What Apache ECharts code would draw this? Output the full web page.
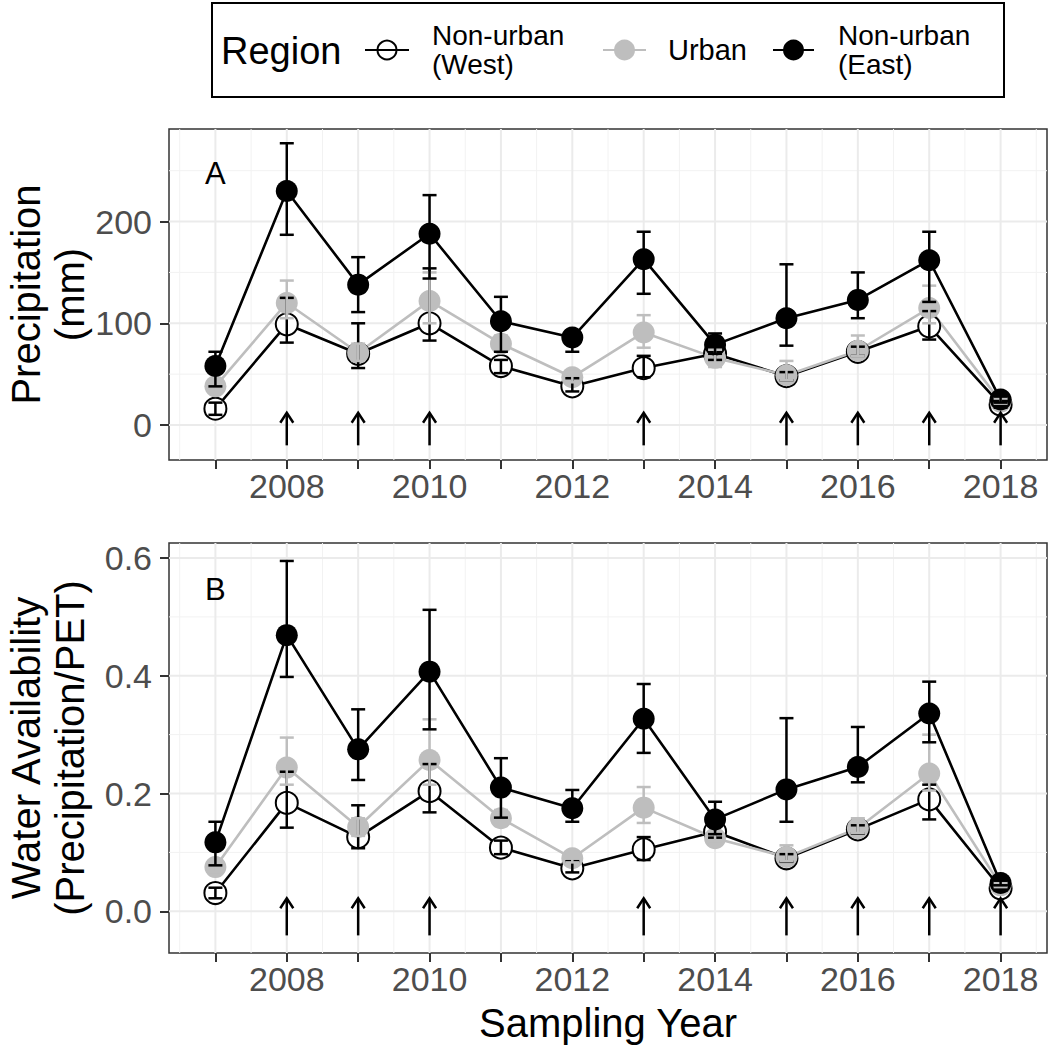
<!DOCTYPE html>
<html><head><meta charset="utf-8">
<script src="https://cdn.jsdelivr.net/npm/echarts@6/dist/echarts.min.js"></script>
<style>html,body{margin:0;padding:0;background:#fff}#c{width:1049px;height:1050px}</style>
</head><body><div id="c"></div>
<script>
// ---------- data ----------
const years = [2007, 2008, 2009, 2010, 2011, 2012, 2013, 2014, 2015, 2016, 2017, 2018];
const xTickLabels = [2008, 2010, 2012, 2014, 2016, 2018];
const arrowYears = [2008, 2009, 2010, 2013, 2015, 2016, 2017, 2018];
const precipYTicks = [0, 100, 200];
const precipYMinor = [50, 150, 250];
const waterYTicks = [0, 0.2, 0.4, 0.6];
const waterYMinor = [0.1, 0.3, 0.5];

// Panel A: Precipitation (mm)
const westPrecip    = [16, 99, 70, 100, 58, 38, 56, 70, 48, 72, 97, 20];
const westPrecipLo  = [10, 81, 56, 83, 51, 33, 47, 64, 44, 68, 84, 17];
const westPrecipHi  = [22, 125, 100, 154, 64, 46, 68, 76, 52, 77, 112, 23];
const urbanPrecip   = [38, 120, 71, 122, 80, 47, 91, 66, 49, 73, 115, 23];
const urbanPrecipLo = [32, 105, 63, 100, 72, 42, 76, 57, 44, 68, 100, 21];
const urbanPrecipHi = [44, 142, 80, 150, 88, 52, 108, 74, 63, 88, 137, 26];
const eastPrecip    = [58, 230, 138, 188, 102, 86, 163, 79, 105, 123, 162, 25];
const eastPrecipLo  = [38, 187, 111, 144, 72, 72, 129, 70, 78, 105, 121, 22];
const eastPrecipHi  = [72, 277, 165, 226, 126, 93, 190, 90, 158, 150, 190, 28];

// Panel B: Water availability (Precipitation/PET)
const westWater    = [0.031, 0.184, 0.126, 0.204, 0.108, 0.073, 0.105, 0.135, 0.090, 0.139, 0.190, 0.039];
const westWaterLo  = [0.022, 0.142, 0.107, 0.168, 0.097, 0.066, 0.087, 0.125, 0.084, 0.132, 0.156, 0.035];
const westWaterHi  = [0.040, 0.237, 0.180, 0.250, 0.120, 0.085, 0.126, 0.145, 0.097, 0.146, 0.215, 0.043];
const urbanWater   = [0.075, 0.244, 0.143, 0.257, 0.158, 0.090, 0.176, 0.124, 0.092, 0.141, 0.234, 0.044];
const urbanWaterLo = [0.066, 0.215, 0.128, 0.215, 0.145, 0.083, 0.150, 0.114, 0.085, 0.133, 0.205, 0.041];
const urbanWaterHi = [0.084, 0.295, 0.158, 0.326, 0.172, 0.098, 0.211, 0.134, 0.112, 0.158, 0.300, 0.048];
const eastWater    = [0.117, 0.469, 0.275, 0.407, 0.210, 0.175, 0.327, 0.156, 0.207, 0.245, 0.336, 0.048];
const eastWaterLo  = [0.078, 0.398, 0.223, 0.309, 0.159, 0.152, 0.269, 0.131, 0.152, 0.219, 0.287, 0.044];
const eastWaterHi  = [0.152, 0.595, 0.343, 0.512, 0.260, 0.206, 0.386, 0.186, 0.328, 0.313, 0.390, 0.052];

const arrowPrecipRange = [-20, 12];
const arrowWaterRange = [-0.041, 0.022];

// ---------- styling ----------
const FONT = "'Liberation Sans', Arial, Helvetica, sans-serif";
const GREY = '#BEBEBE';
const X_MIN = 2006.35, X_MAX = 2018.65;
const panels = [
  { grid: 0, yMin: -34.4, yMax: 291, yTicks: precipYTicks, yMinor: precipYMinor, fmt: v => String(v),
    name: 'Precipitation\n(mm)', arrows: arrowPrecipRange,
    west: [westPrecip, westPrecipLo, westPrecipHi], urban: [urbanPrecip, urbanPrecipLo, urbanPrecipHi],
    east: [eastPrecip, eastPrecipLo, eastPrecipHi] },
  { grid: 1, yMin: -0.0709, yMax: 0.6255, yTicks: waterYTicks, yMinor: waterYMinor, fmt: v => v.toFixed(1),
    name: 'Water Availability\n(Precipitation/PET)', arrows: arrowWaterRange,
    west: [westWater, westWaterLo, westWaterHi], urban: [urbanWater, urbanWaterLo, urbanWaterHi],
    east: [eastWater, eastWaterLo, eastWaterHi] }
];

const xMinor = years.map(y => y - 0.5).concat([years[years.length - 1] + 0.5]);

function gridLinesRender(p) {
  return function (params, api) {
    const ch = [];
    const major = { stroke: '#EBEBEB', lineWidth: 2 };
    const minor = { stroke: '#F2F2F2', lineWidth: 1 };
    xMinor.forEach(x => {
      if (x < X_MIN || x > X_MAX) return;
      const a = api.coord([x, p.yMin]), b = api.coord([x, p.yMax]);
      ch.push({ type: 'line', shape: { x1: a[0], y1: a[1], x2: b[0], y2: b[1] }, style: minor });
    });
    p.yMinor.forEach(y => {
      const a = api.coord([X_MIN, y]), b = api.coord([X_MAX, y]);
      ch.push({ type: 'line', shape: { x1: a[0], y1: a[1], x2: b[0], y2: b[1] }, style: minor });
    });
    years.forEach(x => {
      const a = api.coord([x, p.yMin]), b = api.coord([x, p.yMax]);
      ch.push({ type: 'line', shape: { x1: a[0], y1: a[1], x2: b[0], y2: b[1] }, style: major });
    });
    p.yTicks.forEach(y => {
      const a = api.coord([X_MIN, y]), b = api.coord([X_MAX, y]);
      ch.push({ type: 'line', shape: { x1: a[0], y1: a[1], x2: b[0], y2: b[1] }, style: major });
    });
    return { type: 'group', children: ch };
  };
}

function errRender(color) {
  return function (params, api) {
    const x = api.value(0), lo = api.value(1), hi = api.value(2);
    const a = api.coord([x, lo]), b = api.coord([x, hi]);
    const w = 7;
    const style = { stroke: color, lineWidth: 2.5, fill: null };
    return { type: 'group', children: [
      { type: 'line', shape: { x1: a[0], y1: a[1], x2: b[0], y2: b[1] }, style },
      { type: 'line', shape: { x1: a[0] - w, y1: a[1], x2: a[0] + w, y2: a[1] }, style },
      { type: 'line', shape: { x1: b[0] - w, y1: b[1], x2: b[0] + w, y2: b[1] }, style }
    ] };
  };
}

function arrowRender(params, api) {
  const x = api.value(0), lo = api.value(1), hi = api.value(2);
  const a = api.coord([x, lo]), b = api.coord([x, hi]);
  const style = { stroke: '#000', lineWidth: 2.5, fill: null };
  return { type: 'group', children: [
    { type: 'line', shape: { x1: a[0], y1: a[1], x2: b[0], y2: b[1] + 1 }, style },
    { type: 'polyline', shape: { points: [[b[0] - 6.5, b[1] + 10], [b[0], b[1]], [b[0] + 6.5, b[1] + 10]] }, style }
  ] };
}

const grids = [
  { left: 169, top: 129, width: 878, height: 331 },
  { left: 169, top: 543, width: 878, height: 410 }
].map(g => Object.assign(g, { show: true, borderColor: '#333333', borderWidth: 1.5, backgroundColor: '#fff',
  containLabel: false, outerBoundsMode: 'none' }));

const xAxes = panels.map((p, i) => ({
  type: 'value', gridIndex: i, min: X_MIN, max: X_MAX, position: 'bottom',
  axisLine: { show: false, onZero: false },
  axisTick: { show: true, customValues: years, length: 9, lineStyle: { color: '#333333', width: 2 } },
  axisLabel: { customValues: xTickLabels, fontSize: 34, color: '#4D4D4D', margin: 9, fontFamily: FONT, formatter: v => String(v) },
  splitLine: { show: false },
  name: i === 1 ? 'Sampling Year' : '',
  nameLocation: 'middle', nameGap: 50, nameMoveOverlap: false,
  nameTextStyle: { fontSize: 40, color: '#000', fontFamily: FONT }
}));

const yAxes = panels.map((p, i) => ({
  type: 'value', gridIndex: i, min: p.yMin, max: p.yMax, position: 'left',
  axisLine: { show: false, onZero: false },
  axisTick: { show: true, customValues: p.yTicks, length: 9, lineStyle: { color: '#333333', width: 2 } },
  axisLabel: { customValues: p.yTicks, fontSize: 34, color: '#4D4D4D', margin: 17, fontFamily: FONT, formatter: p.fmt },
  splitLine: { show: false },
  name: p.name, nameLocation: 'middle', nameRotate: 90, nameGap: 77, nameMoveOverlap: false,
  nameTextStyle: { fontSize: 40, color: '#000', fontFamily: FONT, lineHeight: 44 }
}));

const series = [];
const groups = [
  { key: 'west', lineColor: '#000', fill: '#fff', border: '#000', err: '#000' },
  { key: 'urban', lineColor: GREY, fill: GREY, border: GREY, err: GREY },
  { key: 'east', lineColor: '#000', fill: '#000', border: '#000', err: '#000' }
];
panels.forEach((p, i) => {
  series.push({ type: 'custom', xAxisIndex: i, yAxisIndex: i, z: 1, silent: true,
    renderItem: gridLinesRender(p), data: [[years[0], 0]] });
  groups.forEach((g, gi) => {
    const vals = p[g.key][0];
    series.push({ type: 'line', xAxisIndex: i, yAxisIndex: i, z: 2, silent: true, showSymbol: false, symbol: 'none',
      lineStyle: { color: g.lineColor, width: 2.6 }, data: years.map((y, k) => [y, vals[k]]) });
  });
  groups.forEach((g, gi) => {
    const vals = p[g.key][0];
    series.push({ type: 'scatter', xAxisIndex: i, yAxisIndex: i, z: 3 + gi, silent: true, symbol: 'circle', symbolSize: 22,
      itemStyle: { color: g.fill, borderColor: g.border, borderWidth: g.key === 'west' ? 2 : 0, opacity: 1 },
      data: years.map((y, k) => [y, vals[k]]) });
  });
  groups.forEach((g, gi) => {
    const lo = p[g.key][1], hi = p[g.key][2];
    series.push({ type: 'custom', xAxisIndex: i, yAxisIndex: i, z: 6 + gi, silent: true,
      renderItem: errRender(g.err), data: years.map((y, k) => [y, lo[k], hi[k]]) });
  });
  series.push({ type: 'custom', xAxisIndex: i, yAxisIndex: i, z: 9, silent: true,
    renderItem: arrowRender, data: arrowYears.map(y => [y, p.arrows[0], p.arrows[1]]) });
});

const txt = (x, y, text, size) => ({ type: 'text', x, y, z: 101,
  style: { text, fontSize: size, fontFamily: FONT, fill: '#000', verticalAlign: 'middle', textVerticalAlign: 'middle' } });

const graphic = [
  { type: 'rect', shape: { x: 212, y: 3, width: 792, height: 94 }, style: { fill: '#fff', stroke: '#000', lineWidth: 2 }, z: 100 },
  txt(221, 51, 'Region', 38),
  { type: 'line', shape: { x1: 365, y1: 50, x2: 409, y2: 50 }, style: { stroke: '#000', lineWidth: 2.2 }, z: 101 },
  { type: 'circle', shape: { cx: 387, cy: 50, r: 9.5 }, style: { fill: null, stroke: '#000', lineWidth: 2 }, z: 102 },
  txt(432, 35, 'Non-urban', 28),
  txt(432, 64, '(West)', 28),
  { type: 'line', shape: { x1: 603, y1: 50, x2: 646, y2: 50 }, style: { stroke: GREY, lineWidth: 2.2 }, z: 101 },
  { type: 'circle', shape: { cx: 624.5, cy: 50, r: 10.5 }, style: { fill: GREY }, z: 102 },
  txt(668, 50, 'Urban', 29),
  { type: 'line', shape: { x1: 773, y1: 50, x2: 814, y2: 50 }, style: { stroke: '#000', lineWidth: 2.2 }, z: 101 },
  { type: 'circle', shape: { cx: 793.5, cy: 50, r: 10.5 }, style: { fill: '#000' }, z: 102 },
  txt(838, 35, 'Non-urban', 28),
  txt(838, 64, '(East)', 28),
  txt(205, 173, 'A', 31),
  txt(205, 589, 'B', 31)
];

const chart = echarts.init(document.getElementById('c'), null, { renderer: 'svg' });
chart.setOption({
  animation: false,
  backgroundColor: '#fff',
  grid: grids,
  xAxis: xAxes,
  yAxis: yAxes,
  series,
  graphic
});
</script></body></html>
